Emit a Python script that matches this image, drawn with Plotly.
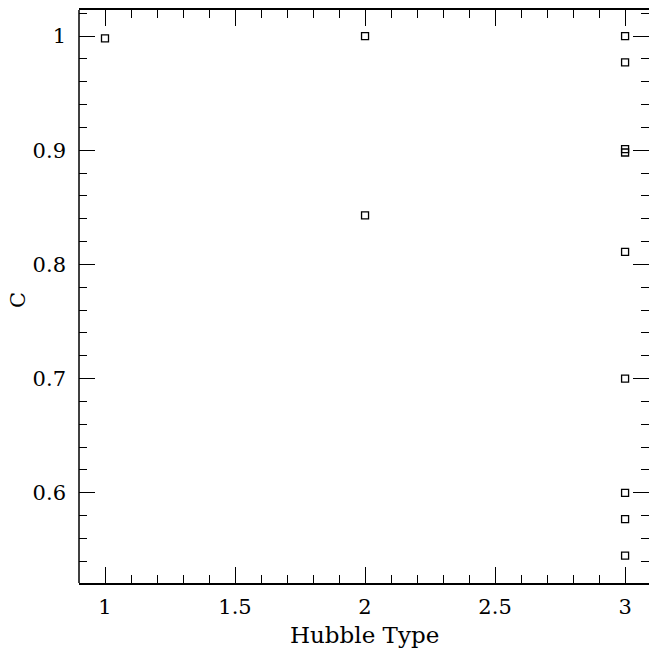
import plotly.graph_objects as go

hubble_type = [1, 2, 2, 3, 3, 3, 3, 3, 3, 3, 3, 3]
c_values = [0.998, 1.000, 0.843, 1.000, 0.977, 0.901, 0.898, 0.811, 0.700, 0.600, 0.577, 0.545]

x_ticks = [1, 1.5, 2, 2.5, 3]
x_tick_labels = ["1", "1.5", "2", "2.5", "3"]
y_ticks = [0.6, 0.7, 0.8, 0.9, 1.0]
y_tick_labels = ["0.6", "0.7", "0.8", "0.9", "1"]

font_family = "DejaVu Serif"

W, H = 649, 648
ML, MR, MT, MB = 79, 0, 10, 65
plot_w = W - ML - MR
plot_h = H - MT - MB

fig = go.Figure()
fig.add_trace(go.Scatter(
    x=hubble_type, y=c_values, mode="markers",
    marker=dict(symbol="square-open", size=7, color="black", line=dict(width=1.3, color="black")),
    showlegend=False, cliponaxis=False,
))

axis_common = dict(
    showgrid=False, zeroline=False, linecolor="black", linewidth=1.5,
    ticks="inside", ticklen=16, tickwidth=1.3, tickcolor="black", mirror="ticks",
    tickfont=dict(family=font_family, size=21, color="black"),
    automargin=False,
)

fig.update_xaxes(
    range=[0.9, 3.092], tickvals=x_ticks, ticktext=x_tick_labels, showline=True,
    ticklabelstandoff=4,
    minor=dict(ticks="inside", ticklen=8, tickwidth=1.3, tickcolor="black", dtick=0.1, tick0=0.9, showgrid=False),
    **axis_common,
)
fig.update_yaxes(
    range=[0.521, 1.0228], tickvals=y_ticks, ticktext=y_tick_labels, showline=False,
    ticklabelstandoff=12,
    minor=dict(ticks="inside", ticklen=8, tickwidth=1.3, tickcolor="black", dtick=0.02, tick0=0.52, showgrid=False),
    **axis_common,
)

# left frame line only (right side of the frame lies outside the picture)
fig.add_shape(type="line", xref="paper", yref="paper", x0=0, x1=0, y0=0, y1=1,
              line=dict(color="black", width=1.5))

# axis titles
fig.add_annotation(text="Hubble Type", xref="paper", yref="paper",
                   x=(364 - ML) / plot_w, y=-(635 - (H - MB)) / plot_h,
                   xanchor="center", yanchor="middle", showarrow=False,
                   font=dict(family=font_family, size=23, color="black"))
fig.add_annotation(text="C", xref="paper", yref="paper",
                   x=(18 - ML) / plot_w, y=(H - MB - 300) / plot_h,
                   xanchor="center", yanchor="middle", showarrow=False, textangle=-90,
                   font=dict(family=font_family, size=21, color="black"))

fig.update_layout(
    width=W, height=H,
    margin=dict(l=ML, r=MR, t=MT, b=MB),
    plot_bgcolor="white", paper_bgcolor="white",
)

fig.write_html("out.html")
